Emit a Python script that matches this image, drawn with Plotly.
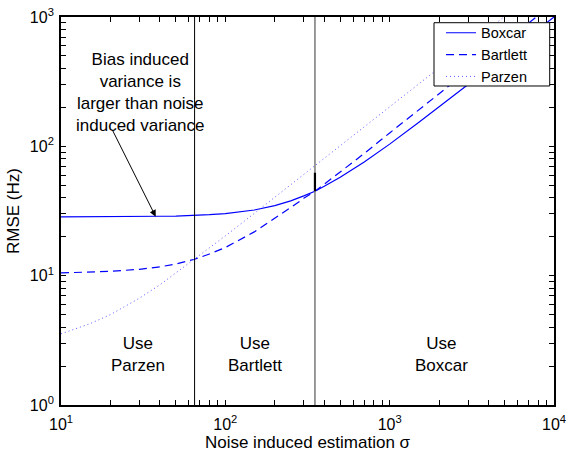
import numpy as np
import plotly.graph_objects as go

# Noise-induced estimation sigma and RMSE (Hz) of each window
sigma = [10, 15, 20, 30, 40, 50, 65, 80, 100, 150, 200, 250, 300, 351,
         400, 500, 700, 1000, 1500, 2000, 3000, 5000, 7000, 10000]
boxcar = [28.5, 28.5, 28.6, 28.7, 28.8, 28.9, 29.2, 29.6, 30.2, 32.2, 34.8, 37.9, 41.4, 45.0,
          49.1, 57.6, 75.6, 104, 153, 202, 301, 501, 700, 1000]
bartlett = [10.5, 10.6, 10.8, 11.2, 11.7, 12.3, 13.4, 14.7, 16.5, 21.8, 27.7, 33.6, 39.6, 45.0,
            51.0, 63.2, 88, 127, 190, 255, 385, 640, 895, 1280]
parzen = [3.55, 4.25, 5.0, 6.7, 8.5, 10.5, 13.5, 16.4, 20.3, 30.3, 40.4, 50.5, 60.6, 70.9,
          80.8, 101, 141, 202, 303, 404, 606, 1010, 1414, 2020]

# window-choice boundaries (sigma)
parzen_bartlett_edge = 65
bartlett_boxcar_edge = 351
edge_marker_rmse = [45, 62.5]

x_ticks = [10, 100, 1000, 10000]
x_ticktext = ["10<sup>1</sup>", "10<sup>2</sup>", "10<sup>3</sup>", "10<sup>4</sup>"]
y_ticks = [1, 10, 100, 1000]
y_ticktext = ["10<sup>0</sup>", "10<sup>1</sup>", "10<sup>2</sup>", "10<sup>3</sup>"]

# unlabelled ticks between decades
x_minor = [m * 10 ** d for d in range(1, 4) for m in range(2, 10)]
y_minor = [m * 10 ** d for d in range(0, 3) for m in range(2, 10)]

# region labels: (text, sigma, rmse)
regions = [("Use<br>Parzen", 29.4, 2.45),
           ("Use<br>Bartlett", 152, 2.45),
           ("Use<br>Boxcar", 2056, 2.45)]

note_text = "Bias induced<br>variance is<br>larger than noise<br>induced variance"
note_pos = (30.3, 262)
arrow_tip = (37.7, 28.6)

FONT = "Liberation Sans, Arial, Helvetica, sans-serif"
BLUE = "#0000ff"

fig = go.Figure()
fig.add_trace(go.Scatter(x=sigma, y=boxcar, mode="lines", name="Boxcar",
                         line=dict(color=BLUE, width=1.2)))
fig.add_trace(go.Scatter(x=sigma, y=bartlett, mode="lines", name="Bartlett",
                         line=dict(color=BLUE, width=1.2, dash="8px,5px")))
fig.add_trace(go.Scatter(x=sigma, y=parzen, mode="lines", name="Parzen",
                         line=dict(color="#5a5aff", width=1, dash="1px,3px")))

fig.add_shape(type="line", xref="x", yref="paper",
              x0=parzen_bartlett_edge, x1=parzen_bartlett_edge, y0=0, y1=1,
              line=dict(color="black", width=1))
fig.add_shape(type="line", xref="x", yref="paper",
              x0=bartlett_boxcar_edge, x1=bartlett_boxcar_edge, y0=0, y1=1,
              line=dict(color="#808080", width=1.6))
fig.add_shape(type="line", xref="x", yref="y",
              x0=bartlett_boxcar_edge, x1=bartlett_boxcar_edge,
              y0=edge_marker_rmse[0], y1=edge_marker_rmse[1],
              line=dict(color="black", width=2.2))

# legend frame (white box that hides the curves behind the legend)
fig.add_shape(type="rect", xref="paper", yref="paper", layer="above",
              x0=0.7566, x1=0.9913, y0=0.8222, y1=0.9853,
              fillcolor="white", line=dict(color="black", width=1))

for text, sx, ry in regions:
    fig.add_annotation(x=np.log10(sx), y=np.log10(ry), xref="x", yref="y",
                       text=text, showarrow=False,
                       font=dict(family=FONT, size=17, color="black"))

fig.add_annotation(x=np.log10(note_pos[0]), y=np.log10(note_pos[1]), xref="x", yref="y",
                   text=note_text, showarrow=False,
                   font=dict(family=FONT, size=17, color="black"))
fig.add_annotation(x=np.log10(arrow_tip[0]), y=np.log10(arrow_tip[1]), xref="x", yref="y",
                   text="", showarrow=True, ax=-44, ay=-88,
                   arrowhead=2, arrowsize=1.3, arrowwidth=1, arrowcolor="black",
                   standoff=0)

axis_common = dict(
    type="log", showgrid=False, zeroline=False, automargin=False,
    showline=True, linecolor="black", linewidth=1.8, mirror="ticks",
    ticks="inside", ticklen=5, tickwidth=1.2, tickcolor="black",
    tickfont=dict(family=FONT, size=16, color="black"),
    tickmode="array", ticklabeloverflow="allow", layer="above traces",
)

fig.update_layout(
    xaxis=dict(**axis_common, range=[1, 4],
               tickvals=x_ticks + x_minor,
               ticktext=x_ticktext + [""] * len(x_minor),
               ticklabelstandoff=4,
               title=dict(text="Noise induced estimation σ", standoff=4,
                          font=dict(family=FONT, size=17, color="black"))),
    yaxis=dict(**axis_common, range=[0, 3],
               tickvals=y_ticks + y_minor,
               ticktext=y_ticktext + [""] * len(y_minor),
               ticklabelstandoff=2,
               title=dict(text="RMSE (Hz)", standoff=6,
                          font=dict(family=FONT, size=17, color="black"))),
)

fig.update_layout(
    width=566, height=455,
    margin=dict(l=61, r=12, t=17, b=50),
    paper_bgcolor="white", plot_bgcolor="white",
    font=dict(family=FONT, size=16, color="black"),
    legend=dict(x=0.7708, y=1.0005, xanchor="left", yanchor="top",
                bgcolor="rgba(0,0,0,0)", borderwidth=0,
                font=dict(family=FONT, size=14.5, color="black"),
                itemwidth=30, tracegroupgap=0),
    showlegend=True,
)

fig.write_html("out.html")
